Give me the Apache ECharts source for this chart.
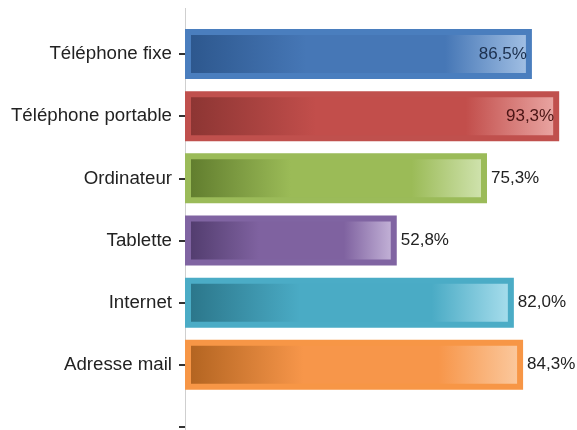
<!DOCTYPE html>
<html><head><meta charset="utf-8">
<script src="https://cdn.jsdelivr.net/npm/echarts@6/dist/echarts.min.js"></script>
<style>html,body{margin:0;padding:0;background:#fff}#c{width:577px;height:430px}</style>
</head><body><div id="c"></div>
<script>
// Data
const categories = ['Téléphone fixe', 'Téléphone portable', 'Ordinateur', 'Tablette', 'Internet', 'Adresse mail', ''];
const values = [86.5, 93.3, 75.3, 52.8, 82.0, 84.3];
const labelInside = [true, true, false, false, false, false];

// Styles
const palette = [
  { border: '#4a7ebe', dark: '#2c568c', mid: '#4677b6', light: '#a6c3e6', text: '#1b2f4d' },
  { border: '#c0504d', dark: '#8a3432', mid: '#c24e4b', light: '#eba9a6', text: '#4a1414' },
  { border: '#9bbb59', dark: '#5e7a2c', mid: '#9bbb57', light: '#d3e5b3', text: '#262626' },
  { border: '#8064a2', dark: '#4f3a6b', mid: '#7f62a0', light: '#c9b9dc', text: '#262626' },
  { border: '#4bacc6', dark: '#2a7488', mid: '#4aabc5', light: '#ace0ee', text: '#262626' },
  { border: '#f79646', dark: '#b0621f', mid: '#f7964a', light: '#fbcba2', text: '#262626' }
];
const FONT = "'Liberation Sans', Arial, sans-serif";

const fmt = v => v.toFixed(1).replace('.', ',') + '%';

const data = values.map((v, i) => {
  const p = palette[i];
  return {
    value: v,
    itemStyle: {
      color: new echarts.graphic.LinearGradient(0, 0, 1, 0, [
        { offset: 0, color: p.dark },
        { offset: 0.35, color: p.mid },
        { offset: 0.75, color: p.mid },
        { offset: 1, color: p.light }
      ]),
      borderColor: p.border,
      borderWidth: 6
    },
    label: labelInside[i]
      ? { position: 'insideRight', distance: 5, color: p.text }
      : { position: 'right', distance: 4, color: '#222' }
  };
});

const chart = echarts.init(document.getElementById('c'), null, { renderer: 'canvas' });
chart.setOption({
  backgroundColor: '#ffffff',
  animation: false,
  grid: { left: 185, right: 11, top: 23, bottom: -28, containLabel: false, outerBoundsMode: 'none' },
  xAxis: {
    type: 'value', min: 0, max: 95,
    show: false
  },
  yAxis: {
    type: 'category',
    data: categories,
    inverse: true,
    axisLine: { show: true, lineStyle: { color: '#cfcfcf', width: 1 } },
    axisTick: { show: true, alignWithLabel: true, length: 6, lineStyle: { color: '#333', width: 2 } },
    axisLabel: { margin: 13, color: '#222', fontSize: 18.7, fontFamily: FONT },
    splitLine: { show: false }
  },
  series: [{
    type: 'bar',
    data: data,
    barWidth: 50,
    label: { show: true, formatter: p => fmt(p.value), fontSize: 17, fontFamily: FONT }
  }],
  graphic: [{
    type: 'line', shape: { x1: 185.5, y1: 8, x2: 185.5, y2: 23 },
    style: { stroke: '#cfcfcf', lineWidth: 1 }, silent: true
  }]
});
</script>
</body></html>
